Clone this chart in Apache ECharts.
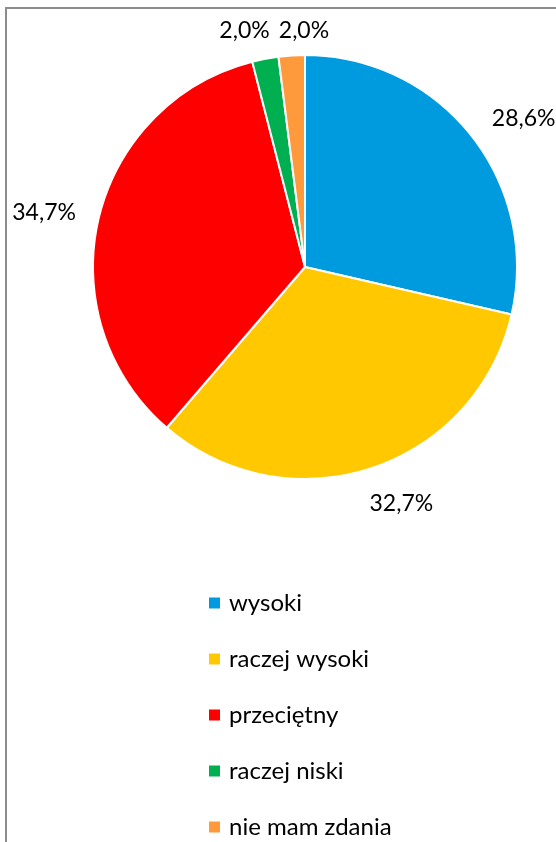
<!DOCTYPE html>
<html>
<head>
<meta charset="utf-8">
<script src="https://cdn.jsdelivr.net/npm/echarts@6/dist/echarts.min.js"></script>
<style>
  html, body { margin: 0; padding: 0; background: #fff; }
  #frame {
    position: absolute;
    left: 5px;
    top: 7px;
    width: 600px;
    height: 900px;
    border: 2px solid #8c8c8c;
  }
  #chart { position: absolute; left: 0; top: 0; width: 556px; height: 842px; }
</style>
</head>
<body>
<div id="frame"></div>
<div id="chart"></div>
<script>
const categories = ['wysoki', 'raczej wysoki', 'przeciętny', 'raczej niski', 'nie mam zdania']
const values = [28.6, 32.7, 34.7, 2.0, 2.0]
const colors = ['#009ADE', '#FFC800', '#FF0000', '#00B050', '#FF9A3C']

const chart = echarts.init(document.getElementById('chart'))

const seriesData = categories.map((name, i) => {
  return { name: name, value: values[i], itemStyle: { color: colors[i] } }
})

// small nudges so the labels sit where Excel puts them
const labelShift = (i) => {
  switch (i) {
    case 0: return { dx: 5, dy: -8 }
    case 1: return { dx: -11, dy: 22 }
    case 2: return { dx: -4, dy: -3 }
    case 3: return { dx: 12, dy: -14 }
    case 4: return { dx: -7, dy: -11, align: 'left' }
    default: return {}
  }
}

const option = {
  animation: false,
  textStyle: { fontFamily: 'Lato' },
  legend: {
    orient: 'vertical',
    left: 207,
    top: 591,
    height: 260,
    padding: 0,
    icon: 'rect',
    itemWidth: 13,
    itemHeight: 13,
    itemGap: 32,
    data: categories,
    textStyle: {
      fontFamily: 'Lato',
      fontSize: 24,
      lineHeight: 24,
      color: '#000',
      padding: [0, 0, 0, 3]
    }
  },
  series: [
    {
      type: 'pie',
      center: [305, 267],
      radius: 212,
      startAngle: 90,
      clockwise: true,
      avoidLabelOverlap: false,
      data: seriesData,
      itemStyle: {
        borderColor: '#fff',
        borderWidth: 2
      },
      label: {
        show: true,
        position: 'outside',
        fontFamily: 'Lato',
        fontSize: 23,
        color: '#000',
        formatter: (p) => p.value.toFixed(1).replace('.', ',') + '%'
      },
      labelLine: {
        show: false,
        length: 14,
        length2: 0
      },
      labelLayout: (params) => labelShift(params.dataIndex)
    }
  ]
}

chart.setOption(option)
</script>
</body>
</html>
